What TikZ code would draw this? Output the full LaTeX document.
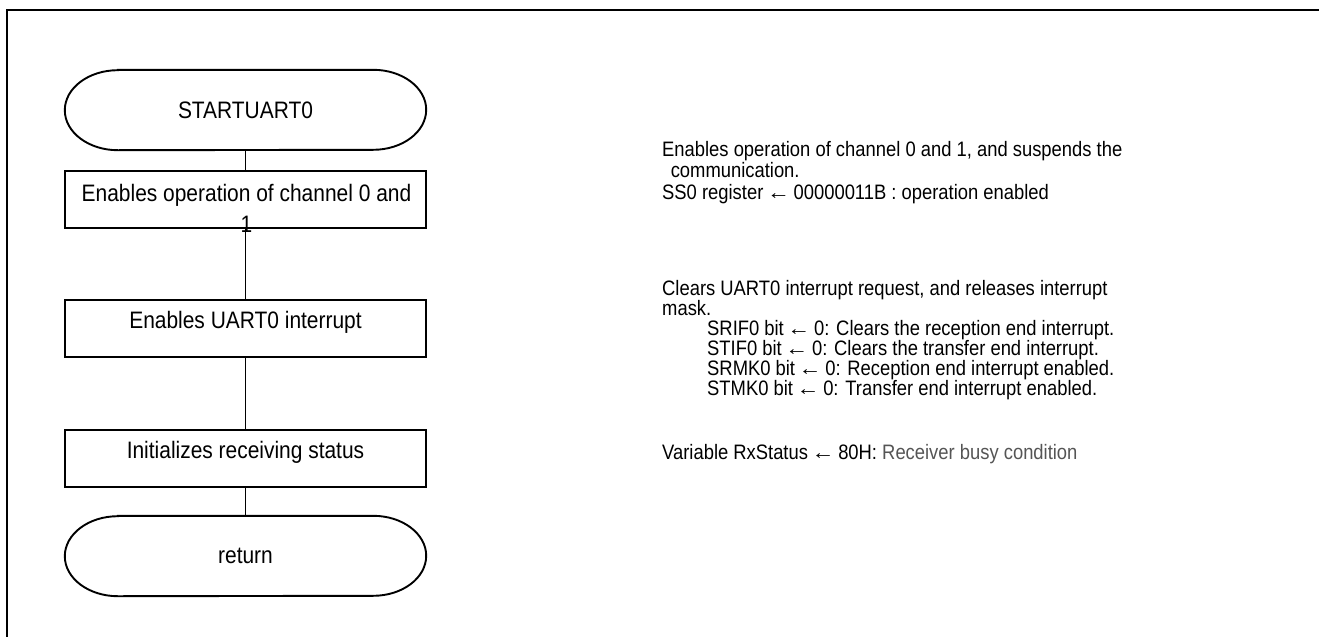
\documentclass[tikz,border=0pt]{standalone}
\usepackage{fontspec}
\usepackage{graphicx}
\setmainfont{Liberation Sans}[FakeStretch=0.88]
\definecolor{notegray}{HTML}{555555}
\newcommand{\larr}{ \hspace{-1.5pt}\scalebox{1.25}[1]{←}\hspace{-1.5pt} }
\begin{document}
\begin{tikzpicture}[x=1pt,y=-1pt,
  boxstyle/.style={draw,line width=1.9pt,minimum width=361pt,minimum height=57pt,inner sep=0pt},
  termstyle/.style={minimum width=361pt,minimum height=80pt,inner sep=0pt,font=\fontsize{23.8}{27}\selectfont},
  boxtext/.style={inner sep=0pt,font=\fontsize{23.8}{27}\selectfont,align=center},
  note/.style={anchor=base west,inner sep=0pt,font=\fontsize{20.9}{23}\selectfont},
  conn/.style={line width=1.9pt},
  outline/.style={line width=1.9pt}]
\useasboundingbox (0,0) rectangle (1319,637);
% frame
\draw[line width=2.4pt] (1319,10) -- (7,10) -- (7,637);
% terminals
\node[termstyle] (start) at (245.5,110) {STARTUART0};
\draw[outline] ([xshift=53pt]start.north west) -- ([xshift=-53pt]start.north east)
  arc[start angle=90,end angle=-90,x radius=53pt,y radius=40pt]
  -- ([xshift=53pt]start.south west)
  arc[start angle=270,end angle=90,x radius=53pt,y radius=40pt] -- cycle;
\node[termstyle] (ret) at (245.5,556) {return};
\draw[outline] ([xshift=53pt]ret.north west) -- ([xshift=-53pt]ret.north east)
  arc[start angle=90,end angle=-90,x radius=53pt,y radius=40pt]
  -- ([xshift=53pt]ret.south west)
  arc[start angle=270,end angle=90,x radius=53pt,y radius=40pt] -- cycle;
% boxes
\node[boxstyle] (b1) at (245.5,199.5) {};
\node[boxstyle] (b2) at (245.5,328.5) {};
\node[boxstyle] (b3) at (245.5,458.5) {};
\node[boxtext,anchor=north] (b1t) at (246.5,184) {Enables operation of channel 0 and\\[4pt]1};
\node[boxtext] (b2t) at (245.5,322) {Enables UART0 interrupt};
\node[boxtext] (b3t) at (245.5,452) {Initializes receiving status};
% connectors
\draw[conn] (start.south) -- (b1.north);
\draw[conn] (b1.south) -- (b2.north);
\draw[conn] (b2.south) -- (b3.north);
\draw[conn] (b3.south) -- (ret.north);
% notes
\node[note] (n1) at (662,156) {Enables operation of channel 0 and 1, and suspends the};
\node[note] (n2) at (662,177) {\ \,communication.};
\node[note] (n3) at (662,199) {SS0 register\larr00000011B : operation enabled};
\node[note] (n4) at (662,295) {Clears UART0 interrupt request, and releases interrupt};
\node[note] (n5) at (662,315) {mask.};
\node[note] (n6) at (707,335) {SRIF0 bit\larr0: Clears the reception end interrupt.};
\node[note] (n7) at (707,355) {STIF0 bit\larr0: Clears the transfer end interrupt.};
\node[note] (n8) at (707,375) {SRMK0 bit\larr0: Reception end interrupt enabled.};
\node[note] (n9) at (707,395) {STMK0 bit\larr0: Transfer end interrupt enabled.};
\node[note] (n10) at (662,459) {Variable RxStatus\larr80H: \textcolor{notegray}{Receiver busy condition}};
\end{tikzpicture}
\end{document}
